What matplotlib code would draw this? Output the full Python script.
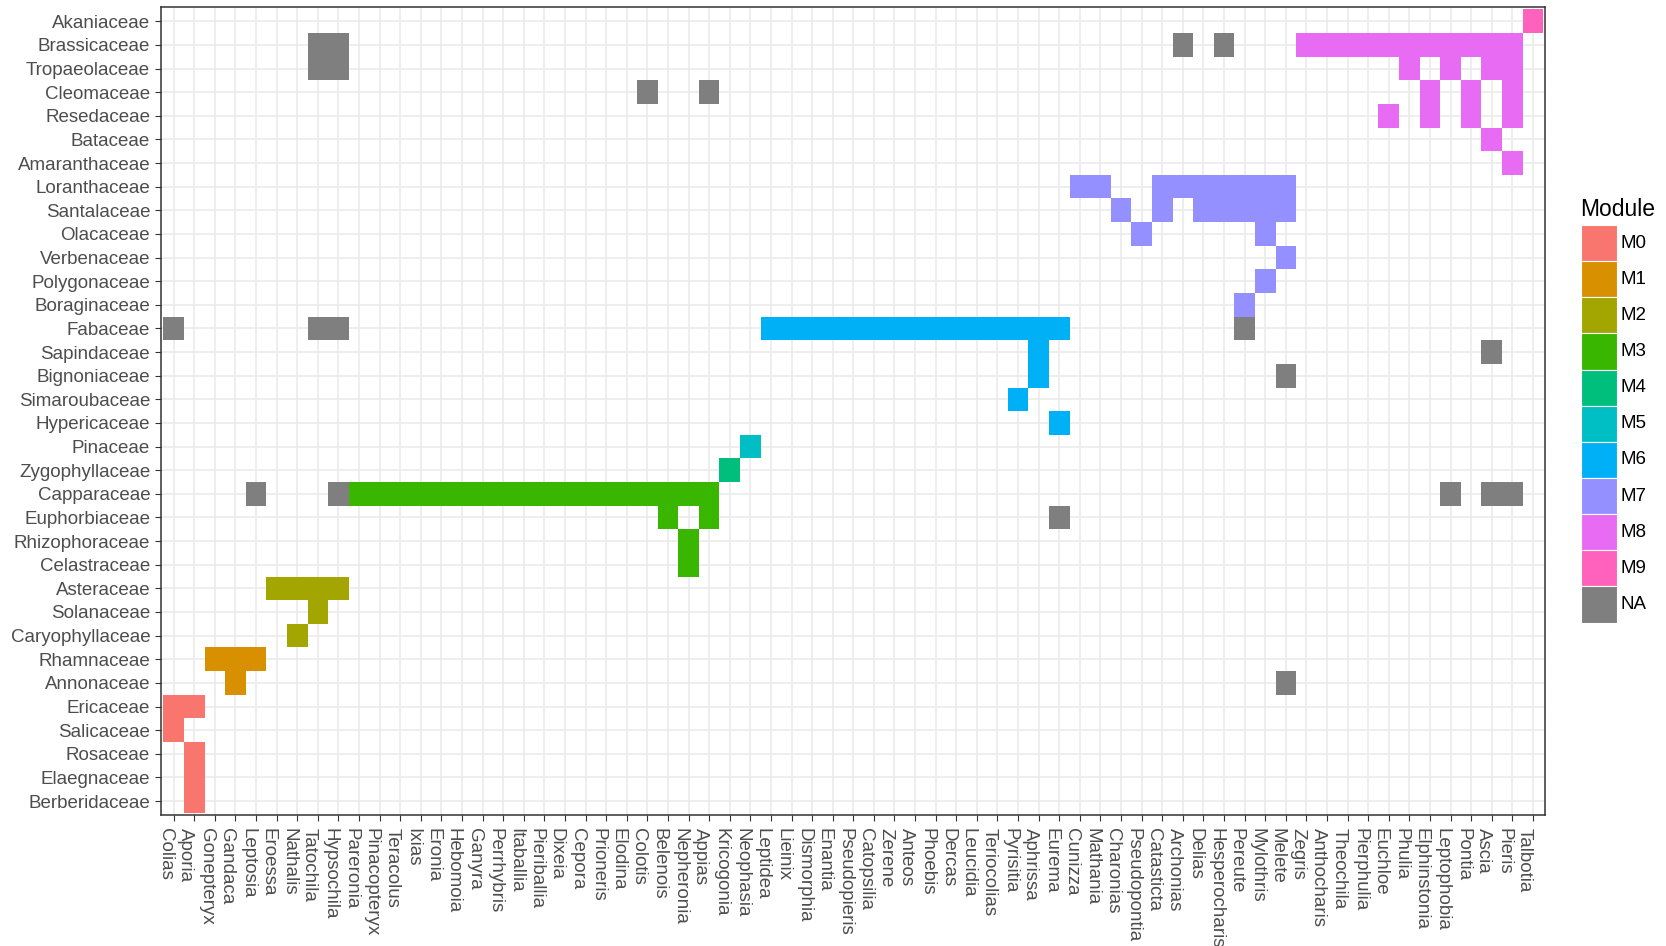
import matplotlib
matplotlib.use("Agg")
import matplotlib.pyplot as plt
import numpy as np
from matplotlib.colors import ListedColormap
from matplotlib.patches import Rectangle

plt.rcParams["font.family"] = ["Liberation Sans", "DejaVu Sans"]

# ---- axes categories ----
genera = [
    "Colias", "Aporia", "Gonepteryx", "Gandaca", "Leptosia", "Eroessa", "Nathalis",
    "Tatochila", "Hypsochila", "Pareronia", "Pinacopteryx", "Teracolus", "Ixias",
    "Eronia", "Hebomoia", "Ganyra", "Perrhybris", "Itaballia", "Pieriballia", "Dixeia",
    "Cepora", "Prioneris", "Elodina", "Colotis", "Belenois", "Nepheronia", "Appias",
    "Kricogonia", "Neophasia", "Leptidea", "Lieinix", "Dismorphia", "Enantia",
    "Pseudopieris", "Catopsilia", "Zerene", "Anteos", "Phoebis", "Dercas", "Leucidia",
    "Teriocolias", "Pyrisitia", "Aphrissa", "Eurema", "Cunizza", "Mathania",
    "Charonias", "Pseudopontia", "Catasticta", "Archonias", "Delias", "Hesperocharis",
    "Pereute", "Mylothris", "Melete", "Zegris", "Anthocharis", "Theochila",
    "Pierphulia", "Euchloe", "Phulia", "Elphinstonia", "Leptophobia", "Pontia",
    "Ascia", "Pieris", "Talbotia",
]

families = [
    "Akaniaceae", "Brassicaceae", "Tropaeolaceae", "Cleomaceae", "Resedaceae",
    "Bataceae", "Amaranthaceae", "Loranthaceae", "Santalaceae", "Olacaceae",
    "Verbenaceae", "Polygonaceae", "Boraginaceae", "Fabaceae", "Sapindaceae",
    "Bignoniaceae", "Simaroubaceae", "Hypericaceae", "Pinaceae", "Zygophyllaceae",
    "Capparaceae", "Euphorbiaceae", "Rhizophoraceae", "Celastraceae", "Asteraceae",
    "Solanaceae", "Caryophyllaceae", "Rhamnaceae", "Annonaceae", "Ericaceae",
    "Salicaceae", "Rosaceae", "Elaegnaceae", "Berberidaceae",
]

modules = ["M0", "M1", "M2", "M3", "M4", "M5", "M6", "M7", "M8", "M9", "NA"]
colours = ["#F8766D", "#D89000", "#A3A500", "#39B600", "#00BF7D", "#00BFC4",
           "#00B0F6", "#9590FF", "#E76BF3", "#FF62BC", "#7F7F7F"]

# ---- host family -> butterfly genera, per module ----
m0 = {"Ericaceae": ["Colias", "Aporia"], "Salicaceae": ["Colias"],
      "Rosaceae": ["Aporia"], "Elaegnaceae": ["Aporia"], "Berberidaceae": ["Aporia"]}
m1 = {"Rhamnaceae": ["Gonepteryx", "Gandaca", "Leptosia"], "Annonaceae": ["Gandaca"]}
m2 = {"Asteraceae": ["Eroessa", "Nathalis", "Tatochila", "Hypsochila"],
      "Solanaceae": ["Tatochila"], "Caryophyllaceae": ["Nathalis"]}
m3 = {"Capparaceae": genera[9:27], "Euphorbiaceae": ["Belenois", "Appias"],
      "Rhizophoraceae": ["Nepheronia"], "Celastraceae": ["Nepheronia"]}
m4 = {"Zygophyllaceae": ["Kricogonia"]}
m5 = {"Pinaceae": ["Neophasia"]}
m6 = {"Fabaceae": genera[29:44], "Sapindaceae": ["Aphrissa"],
      "Bignoniaceae": ["Aphrissa"], "Simaroubaceae": ["Pyrisitia"],
      "Hypericaceae": ["Eurema"]}
m7 = {"Loranthaceae": ["Cunizza", "Mathania", "Catasticta", "Archonias", "Delias",
                       "Hesperocharis", "Pereute", "Mylothris", "Melete"],
      "Santalaceae": ["Charonias", "Catasticta", "Delias", "Hesperocharis", "Pereute",
                      "Mylothris", "Melete"],
      "Olacaceae": ["Pseudopontia", "Mylothris"], "Verbenaceae": ["Melete"],
      "Polygonaceae": ["Mylothris"], "Boraginaceae": ["Pereute"]}
m8 = {"Brassicaceae": genera[55:66],
      "Tropaeolaceae": ["Phulia", "Leptophobia", "Ascia", "Pieris"],
      "Cleomaceae": ["Elphinstonia", "Pontia", "Pieris"],
      "Resedaceae": ["Euchloe", "Elphinstonia", "Pontia", "Pieris"],
      "Bataceae": ["Ascia"], "Amaranthaceae": ["Pieris"]}
m9 = {"Akaniaceae": ["Talbotia"]}
na = {"Brassicaceae": ["Tatochila", "Hypsochila", "Archonias", "Hesperocharis"],
      "Tropaeolaceae": ["Tatochila", "Hypsochila"],
      "Cleomaceae": ["Colotis", "Appias"],
      "Fabaceae": ["Colias", "Tatochila", "Hypsochila", "Pereute"],
      "Sapindaceae": ["Ascia"], "Bignoniaceae": ["Melete"],
      "Capparaceae": ["Leptosia", "Hypsochila", "Leptophobia", "Ascia", "Pieris"],
      "Euphorbiaceae": ["Eurema"], "Annonaceae": ["Melete"]}

# build the tile matrix (row = family, col = genus, value = module index)
z = np.full((len(families), len(genera)), np.nan)
for k, cells in enumerate([m0, m1, m2, m3, m4, m5, m6, m7, m8, m9, na]):
    for fam, gens in cells.items():
        for g in gens:
            z[families.index(fam), genera.index(g)] = k

W, H = 1666, 946
fig = plt.figure(figsize=(W / 100, H / 100), dpi=100)
ax = fig.add_axes([161.3 / W, 1 - 815.2 / H, 1384.0 / W, 808.1 / H])

ax.pcolormesh(np.arange(len(genera) + 1) - 0.5, np.arange(len(families) + 1) - 0.5,
              np.ma.masked_invalid(z), cmap=ListedColormap(colours),
              vmin=-0.5, vmax=len(modules) - 0.5, shading="flat",
              antialiased=False, zorder=2)

ax.set_xlim(-0.6, len(genera) - 0.4)
ax.set_ylim(len(families) - 0.4, -0.6)
ax.set_xticks(range(len(genera)))
ax.set_xticklabels(genera, rotation=-90, ha="right", va="top")
ax.set_yticks(range(len(families)))
ax.set_yticklabels(families)
ax.tick_params(axis="both", length=4, width=0.8, color="#333333",
               labelcolor="#4D4D4D", labelsize=13.5)
ax.tick_params(axis="x", pad=5)
ax.tick_params(axis="y", pad=4)
ax.set_axisbelow(True)
ax.grid(True, color="#EBEBEB", linewidth=1.2)
for sp in ax.spines.values():
    sp.set_color("#333333")
    sp.set_linewidth(1.1)

# legend
fig.text(1580 / W, 1 - 216 / H, "Module", fontsize=16.5, color="black",
         ha="left", va="baseline")
key_top, key_h, key_x, key_w = 225.0, 36.15, 1581.0, 36.0
for i, (name, col) in enumerate(zip(modules, colours)):
    y0 = key_top + i * key_h
    fig.add_artist(Rectangle((key_x / W, 1 - (y0 + key_h) / H), key_w / W, key_h / H,
                             transform=fig.transFigure, facecolor=col,
                             edgecolor="white", linewidth=0.8))
    fig.text(1621 / W, 1 - (y0 + key_h / 2) / H, name, fontsize=13.5,
             color="black", ha="left", va="center")

fig.savefig("out.png", dpi=100, facecolor="white")
